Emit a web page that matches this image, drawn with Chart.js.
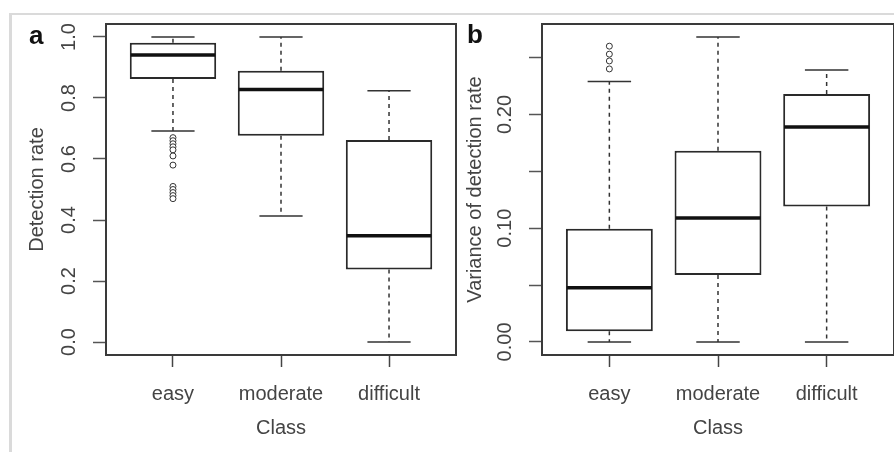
<!DOCTYPE html>
<html><head><meta charset="utf-8">
<script src="https://cdn.jsdelivr.net/npm/chart.js@4.4.1/dist/chart.umd.min.js"></script>
<style>
html,body{margin:0;padding:0;background:#fff;overflow:hidden;width:894px;height:452px;position:relative;}
#frame{position:absolute;left:9px;top:13px;width:900px;height:450px;border-top:2px solid #dadada;border-left:3px solid #dadada;}
canvas{position:absolute;top:0;}
#ca{left:0}
#cb{left:457px}
.lab{position:absolute;font:bold 26px 'Liberation Sans',Arial,sans-serif;color:#111;line-height:1;}
</style></head><body>
<div id="frame"></div>
<canvas id="ca" width="461" height="452"></canvas>
<canvas id="cb" width="445" height="452"></canvas>
<div class="lab" style="left:29px;top:22px">a</div>
<div class="lab" style="left:467px;top:21px">b</div>
<script>
// ---- data ----
const categories = ['easy', 'moderate', 'difficult'];
const xTicks = [1, 2, 3];

// panel a: Detection rate
const detLow    = [0.692, 0.413, 0.000];
const detQ1     = [0.862, 0.676, 0.238];
const detMedian = [0.941, 0.828, 0.348];
const detQ3     = [0.981, 0.889, 0.662];
const detHigh   = [1.000, 1.000, 0.824];
const detOutliersEasy = [0.67, 0.66, 0.65, 0.64, 0.63, 0.61, 0.58, 0.51, 0.50, 0.49, 0.48, 0.47];
const detTicks = [0, 0.2, 0.4, 0.6, 0.8, 1.0];
const detTickLabels = ['0.0', '0.2', '0.4', '0.6', '0.8', '1.0'];

// panel b: Variance of detection rate
const varLow    = [0.000, 0.000, 0.000];
const varQ1     = [0.0094, 0.0588, 0.119];
const varMedian = [0.0476, 0.109, 0.189];
const varQ3     = [0.0994, 0.168, 0.218];
const varHigh   = [0.229, 0.268, 0.239];
const varOutliersEasy = [0.260, 0.253, 0.247, 0.240];
const varTicks = [0, 0.05, 0.10, 0.15, 0.20, 0.25];
const varTickLabels = ['0.00', '', '0.10', '', '0.20', ''];

// ---- drawing ----
Chart.defaults.font.family = "'Liberation Sans', Arial, sans-serif";
Chart.defaults.font.size = 20;
Chart.defaults.color = '#444';

const boxPlugin = {
  id: 'boxWhisker',
  beforeDatasetsDraw(chart, args, o) {
    const {ctx, scales: {y}} = chart;
    const meta = chart.getDatasetMeta(0);
    ctx.save();
    ctx.strokeStyle = '#333';
    ctx.lineWidth = 1.5;
    meta.data.forEach((bar, i) => {
      const cx = bar.x, hw = bar.width / 4;
      const yLo = y.getPixelForValue(o.low[i]), yHi = y.getPixelForValue(o.high[i]);
      const yQ1 = y.getPixelForValue(o.q1[i]), yQ3 = y.getPixelForValue(o.q3[i]);
      ctx.setLineDash([4, 4]);
      ctx.beginPath();
      ctx.moveTo(cx, yQ3); ctx.lineTo(cx, yHi);
      ctx.moveTo(cx, yQ1); ctx.lineTo(cx, yLo);
      ctx.stroke();
      ctx.setLineDash([]);
      ctx.beginPath();
      ctx.moveTo(cx - hw, yHi); ctx.lineTo(cx + hw, yHi);
      ctx.moveTo(cx - hw, yLo); ctx.lineTo(cx + hw, yLo);
      ctx.stroke();
    });
    ctx.restore();
  },
  afterDatasetsDraw(chart, args, o) {
    const {ctx, chartArea: a, scales: {y}} = chart;
    const meta = chart.getDatasetMeta(0);
    ctx.save();
    ctx.strokeStyle = '#111';
    ctx.lineWidth = 3.5;
    meta.data.forEach((bar, i) => {
      const ym = y.getPixelForValue(o.median[i]);
      ctx.beginPath();
      ctx.moveTo(bar.x - bar.width / 2 + 1, ym);
      ctx.lineTo(bar.x + bar.width / 2 - 1, ym);
      ctx.stroke();
    });
    ctx.strokeStyle = '#3a3a3a';
    ctx.lineWidth = 2;
    ctx.strokeRect(a.left, a.top, a.right - a.left, a.bottom - a.top);
    ctx.restore();
  }
};

function makeChart(id, p) {
  return new Chart(document.getElementById(id), {
    type: 'bar',
    data: {
      datasets: [{
        data: xTicks.map((x, i) => ({x: x, y: [p.q1[i], p.q3[i]]})),
        backgroundColor: '#fff',
        borderColor: '#2a2a2a',
        borderWidth: 2,
        borderSkipped: false,
        categoryPercentage: 1,
        barPercentage: 0.8
      }, {
        type: 'scatter',
        data: p.outliers.map(v => ({x: 1, y: v})),
        pointStyle: 'circle',
        pointRadius: 3,
        pointBorderWidth: 1,
        pointBorderColor: '#333',
        pointBackgroundColor: '#fff'
      }]
    },
    options: {
      responsive: false,
      animation: false,
      events: [],
      layout: {padding: {left: 0, right: p.padRight, top: 24, bottom: 0}},
      plugins: {
        legend: {display: false},
        tooltip: {enabled: false},
        boxWhisker: {low: p.low, q1: p.q1, median: p.median, q3: p.q3, high: p.high}
      },
      scales: {
        x: {
          type: 'linear', min: 0.38, max: 3.62, offset: false,
          afterBuildTicks: s => { s.ticks = xTicks.map(v => ({value: v})); },
          afterFit: s => { s.height = 97; },
          border: {display: false},
          grid: {drawOnChartArea: false, drawTicks: true, tickLength: 12, tickWidth: 1.5, tickColor: '#444', offset: false},
          ticks: {padding: 15.5, maxRotation: 0, minRotation: 0, autoSkip: false,
                  callback: v => categories[Math.round(v) - 1]},
          title: {display: true, text: 'Class', padding: {top: 0, bottom: 12}}
        },
        y: {
          type: 'linear', min: p.yMin, max: p.yMax,
          afterBuildTicks: s => { s.ticks = p.ticks.map(v => ({value: v})); },
          afterFit: s => { s.width = p.yWidth; },
          border: {display: false},
          grid: {drawOnChartArea: false, drawTicks: true, tickLength: 13, tickWidth: 1.5, tickColor: '#555'},
          ticks: {padding: p.tickPad, minRotation: 90, maxRotation: 90, crossAlign: 'center', autoSkip: false,
                  callback: (v, i) => p.tickLabels[i]},
          title: {display: true, text: p.title, padding: {top: p.titlePad, bottom: 0}}
        }
      }
    },
    plugins: [boxPlugin]
  });
}

makeChart('ca', {
  low: detLow, q1: detQ1, median: detMedian, q3: detQ3, high: detHigh, outliers: detOutliersEasy,
  ticks: detTicks, tickLabels: detTickLabels, title: 'Detection rate',
  yMin: -0.0426, yMax: 1.0426, yWidth: 106, tickPad: 10.1, titlePad: 25, padRight: 1
});
makeChart('cb', {
  low: varLow, q1: varQ1, median: varMedian, q3: varQ3, high: varHigh, outliers: varOutliersEasy,
  ticks: varTicks, tickLabels: varTickLabels, title: 'Variance of detection rate',
  yMin: -0.0115, yMax: 0.2795, yWidth: 85, tickPad: 4.5, titlePad: 6, padRight: 8
});
</script>
</body></html>
